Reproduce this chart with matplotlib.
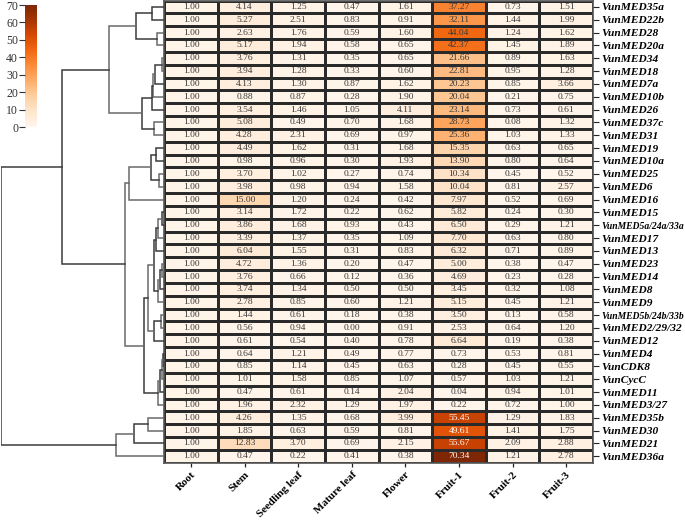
import matplotlib
matplotlib.use("Agg")
import matplotlib.pyplot as plt
import numpy as np

plt.rcParams['font.family'] = ['Liberation Serif', 'DejaVu Serif']

# ===================== DADOS =====================
tissues = ["Root", "Stem", "Seedling leaf", "Mature leaf", "Flower", "Fruit-1", "Fruit-2", "Fruit-3"]

genes = ["VunMED35a", "VunMED22b", "VunMED28", "VunMED20a", "VunMED34", "VunMED18", "VunMED7a",
         "VunMED10b", "VunMED26", "VunMED37c", "VunMED31", "VunMED19", "VunMED10a", "VunMED25",
         "VunMED6", "VunMED16", "VunMED15", "VunMED5a/24a/33a", "VunMED17", "VunMED13", "VunMED23",
         "VunMED14", "VunMED8", "VunMED9", "VunMED5b/24b/33b", "VunMED2/29/32", "VunMED12",
         "VunMED4", "VunCDK8", "VunCycC", "VunMED11", "VunMED3/27", "VunMED35b", "VunMED30",
         "VunMED21", "VunMED36a"]

root    = [1.00] * 36
stem    = [4.14, 5.27, 2.63, 5.17, 3.76, 3.94, 4.13, 0.88, 3.54, 5.08, 4.28, 4.49, 0.98, 3.70,
           3.98, 15.00, 3.14, 3.86, 3.39, 6.04, 4.72, 3.76, 3.74, 2.78, 1.44, 0.56, 0.61, 0.64,
           0.85, 1.01, 0.47, 1.96, 4.26, 1.85, 12.83, 0.47]
seedl   = [1.25, 2.51, 1.76, 1.94, 1.31, 1.28, 1.30, 0.87, 1.46, 0.49, 2.31, 1.62, 0.96, 1.02,
           0.98, 1.20, 1.72, 1.68, 1.37, 1.55, 1.36, 0.66, 1.34, 0.85, 0.61, 0.94, 0.54, 1.21,
           1.14, 1.58, 0.61, 2.32, 1.35, 0.63, 3.70, 0.22]
mature  = [0.47, 0.83, 0.59, 0.58, 0.35, 0.33, 0.87, 0.28, 1.05, 0.70, 0.69, 0.31, 0.30, 0.27,
           0.94, 0.24, 0.22, 0.93, 0.35, 0.31, 0.20, 0.12, 0.50, 0.60, 0.18, 0.00, 0.40, 0.49,
           0.45, 0.85, 0.14, 1.29, 0.68, 0.59, 0.69, 0.41]
flower  = [1.61, 0.91, 1.60, 0.65, 0.65, 0.60, 1.62, 1.90, 4.11, 1.68, 0.97, 1.68, 1.93, 0.74,
           1.58, 0.42, 0.62, 0.43, 1.09, 0.83, 0.47, 0.36, 0.50, 1.21, 0.38, 0.91, 0.78, 0.77,
           0.63, 1.07, 2.04, 1.97, 3.99, 0.81, 2.15, 0.38]
fruit1  = [37.27, 32.11, 44.04, 42.37, 21.66, 22.81, 20.23, 20.04, 23.14, 28.73, 25.36, 15.35,
           13.90, 10.34, 10.04, 7.97, 5.82, 6.50, 7.70, 6.32, 5.00, 4.69, 3.45, 5.15, 3.50, 2.53,
           6.64, 0.73, 0.28, 0.57, 0.04, 0.22, 55.45, 49.61, 55.67, 70.34]
fruit2  = [0.73, 1.44, 1.24, 1.45, 0.89, 0.95, 0.85, 0.21, 0.73, 0.08, 1.03, 0.63, 0.80, 0.45,
           0.81, 0.52, 0.24, 0.29, 0.63, 0.71, 0.38, 0.23, 0.32, 0.45, 0.13, 0.64, 0.19, 0.53,
           0.45, 1.03, 0.94, 0.72, 1.29, 1.41, 2.09, 1.21]
fruit3  = [1.51, 1.99, 1.62, 1.89, 1.63, 1.28, 3.66, 0.75, 0.61, 1.32, 1.33, 0.65, 0.64, 0.52,
           2.57, 0.69, 0.30, 1.21, 0.80, 0.89, 0.47, 0.28, 1.08, 1.21, 0.58, 1.20, 0.38, 0.81,
           0.55, 1.21, 1.01, 1.00, 1.83, 1.75, 2.88, 2.78]

# agrupamento (estilo linkage): folhas 0..35, cada fusão recebe id 36+k
merges = [(0, 1, 12.7), (2, 3, 7.0), (36, 37, 28.3), (4, 5, 2.3), (39, 6, 9.3), (40, 7, 11.0),
          (41, 8, 12.0), (9, 10, 10.0), (42, 43, 22.6), (38, 44, 55.7),
          (11, 12, 8.7), (13, 14, 5.3), (46, 47, 13.3), (48, 15, 35.3),
          (16, 17, 2.7), (50, 18, 6.0), (51, 19, 8.0), (20, 21, 2.3), (53, 22, 4.5), (54, 23, 6.0),
          (52, 55, 10.0), (24, 25, 3.3), (57, 26, 10.0), (56, 58, 16.0),
          (27, 28, 1.3), (60, 29, 2.7), (61, 30, 4.3), (62, 31, 6.0), (59, 63, 20.0),
          (49, 64, 39.0), (45, 65, 102.3), (32, 33, 16.3), (67, 34, 30.0), (68, 35, 48.7),
          (66, 69, 163.0)]

dados = np.array([root, stem, seedl, mature, flower, fruit1, fruit2, fruit3]).T
n_lin, n_col = dados.shape

# ===================== FIGURA =====================
fig = plt.figure(figsize=(6.85, 5.21), dpi=100)
W, H = 685.0, 521.0

hm_left, hm_right = 164.3 / W, 593.0 / W
hm_top, hm_bot = 1 - 0.5 / H, 1 - 462.7 / H
ax = fig.add_axes([hm_left, hm_bot, hm_right - hm_left, hm_top - hm_bot])

cmap = plt.get_cmap("Oranges")
mesh = ax.pcolormesh(np.arange(n_col + 1), np.arange(n_lin + 1), dados, cmap=cmap,
                     vmin=0, vmax=70, edgecolor="#2a2a2a", linewidth=0.9)
ax.set_xlim(0, n_col)
ax.set_ylim(n_lin, 0)

for i in range(n_lin):
    for j in range(n_col):
        v = dados[i, j]
        cor = "white" if v > 45 else "#3a3a3a"
        ax.text(j + 0.5, i + 0.5, f"{v:.2f}", ha="center", va="center", fontsize=6.8, color=cor)

ax.set_xticks(np.arange(n_col) + 0.5)
ax.set_xticklabels(tissues, rotation=45, ha="right", va="top", rotation_mode="anchor",
                   fontsize=8.0, fontweight="bold")
ax.tick_params(axis="x", length=3, width=0.9, pad=2, colors="#222222")
ax.set_yticks(np.arange(n_lin) + 0.5)
ax.set_yticklabels(genes, fontsize=8.2, fontweight="bold", fontstyle="italic")
ax.yaxis.tick_right()
ax.tick_params(axis="y", length=4, width=0.8, pad=2, colors="#222222")
for lab in ax.get_xticklabels() + ax.get_yticklabels():
    lab.set_color("black")
for lab in ax.get_yticklabels():
    if len(lab.get_text()) > 14:
        lab.set_fontsize(6.9)
for s in ax.spines.values():
    s.set_color("#555555")
    s.set_linewidth(1.2)

# ===================== DENDROGRAMA =====================
ax_d = fig.add_axes([1.0 / W, hm_bot, 163.3 / W, hm_top - hm_bot])
pos_y = {i: i + 0.5 for i in range(n_lin)}
altura = {i: 0.0 for i in range(n_lin)}
for k, (a, b, h) in enumerate(merges):
    ya, yb = pos_y[a], pos_y[b]
    cor = "#3c3c3c" if k % 2 == 0 else "#6a6a6a"
    ax_d.plot([altura[a], h, h, altura[b]], [ya, ya, yb, yb], color=cor, lw=1.1,
              solid_joinstyle="miter")
    novo = n_lin + k
    pos_y[novo] = (ya + yb) / 2
    altura[novo] = h
ax_d.set_xlim(163.3, 0)
ax_d.set_ylim(n_lin, 0)
ax_d.axis("off")

# ===================== BARRA DE CORES =====================
cax = fig.add_axes([25.0 / W, 1 - 127.0 / H, 12.0 / W, 122.0 / H])
cb = fig.colorbar(mesh, cax=cax, ticks=np.arange(0, 71, 10))
cb.outline.set_visible(False)
cax.yaxis.set_ticks_position("left")
cax.tick_params(axis="y", length=4, width=0.8, labelsize=8.5, pad=1, colors="#333333")

fig.savefig("out.png", dpi=100)
